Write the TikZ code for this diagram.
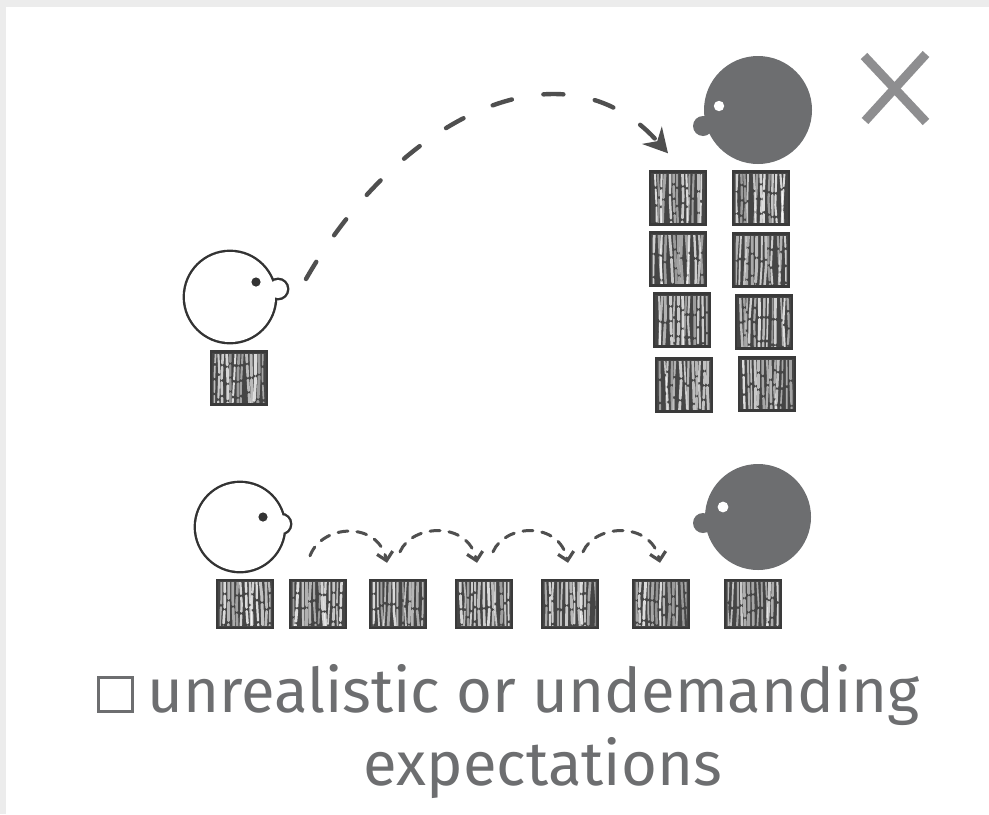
\documentclass[tikz,border=0pt]{standalone}
\usepackage{fontspec}
\setmainfont{Fira Sans}
\usetikzlibrary{arrows.meta}
\definecolor{ink}{HTML}{333333}
\definecolor{arrowgray}{HTML}{4F4F4F}
\definecolor{headgray}{HTML}{6D6E70}
\definecolor{crossgray}{HTML}{8E8E90}
\definecolor{txtgray}{HTML}{6D6E70}
\definecolor{brickfill}{HTML}{454545}
\definecolor{brickedge}{HTML}{3A3A3A}
\definecolor{frame}{HTML}{ECECEC}

% white streaks scratched into a block; #1 node, #2 half width, #3 half height (px)
\newcommand{\grain}[3]{%
  \begin{scope}[shift={(#1.center)}]
    \clip (-#2+2.5,-#3+2.5) rectangle (#2-2.5,#3-2.5);
    \foreach \k in {0,...,12}{
      \pgfmathsetmacro\xa{-#2+4+4*\k+0.9*rand}
      \pgfmathsetmacro\xb{\xa+1.8*rand}
      \pgfmathsetmacro\xc{\xb+1.8*rand}
      \pgfmathsetmacro\ym{8*rand}
      \pgfmathsetmacro\op{0.42+0.4*rnd}
      \pgfmathsetmacro\da{5+9*rnd}
      \pgfmathsetmacro\lw{0.8+0.7*rnd}
      \draw[white, opacity=\op, line width=\lw pt, line cap=round,
            dash pattern=on \da pt off 1.8pt]
        (\xa,-#3) -- (\xb,\ym) -- (\xc,#3);
    }
  \end{scope}}

\begin{document}
\begin{tikzpicture}[x=0.5pt,y=-0.5pt,
  brick/.style={rectangle, fill=brickfill, draw=brickedge, line width=1.2pt,
    minimum width=28pt, minimum height=26.5pt, inner sep=0pt},
  bricklow/.style={brick, minimum height=24pt},
  headspot/.style={circle, inner sep=0pt, minimum size=#1},
  leap/.style={draw=arrowgray, line width=2.2pt, line cap=round,
    dash pattern=on 10pt off 16pt, -{Stealth[length=12pt,width=13pt]}},
  hop/.style={draw=arrowgray, line width=1.5pt, line cap=round,
    dash pattern=on 5pt off 4.5pt, -{Straight Barb[length=4pt,width=8pt,line width=1.6pt]}},
  cross/.style={draw=crossgray, line width=4.5pt},
  label/.style={text=txtgray, font=\fontsize{30.8}{36}\selectfont, inner sep=0pt}]

\useasboundingbox (0,0) rectangle (989,814);
\fill[frame] (0,0) rectangle (989,814);
\fill[white] (6,7) rectangle (989,814);

\pgfmathsetseed{17}

% ---------- upper scene ----------
% small open head with one block
\node[headspot=45pt] (hA) at (230,297) {};
\draw[ink, line width=2.4pt] (hA.center) circle[radius=22.5pt]
  ([shift={(48,-8)}]hA.center) circle[radius=4.5pt];
\fill[white] (hA.center) circle[radius=22.5pt]
  ([shift={(48,-8)}]hA.center) circle[radius=4.5pt];
\fill[ink] ([shift={(26,-15)}]hA.center) circle[radius=2.3pt];

\node[brick] (a1) at (239,378) {};
\grain{a1}{28}{26.5}

% dark head on top of the tall stacks
\node[headspot=54pt] (hB) at (758,110) {};
\fill[headgray] (hB.center) circle[radius=27pt]
  ([shift={(-55,16)}]hB.center) circle[radius=5pt];
\fill[white] ([shift={(-39,-4)}]hB.center) circle[radius=2.6pt];

% the cross
\coordinate (xa) at (864,56);
\coordinate (xb) at (926,122);
\coordinate (xc) at (926,54);
\coordinate (xd) at (865,121);
\draw[cross] (xa) -- (xb);
\draw[cross] (xc) -- (xd);

% two stacks of four blocks
\node[brick] (s11) at (678,198) {};
\node[brick] (s12) at (678,259) {};
\node[brick] (s13) at (682,320) {};
\node[brick] (s14) at (684,385) {};
\node[brick] (s21) at (761,198) {};
\node[brick] (s22) at (761,260) {};
\node[brick] (s23) at (764,322) {};
\node[brick] (s24) at (767,384) {};
\foreach \b in {s11,s12,s13,s14,s21,s22,s23,s24}{\grain{\b}{28}{26.5}}

% the long jump
\coordinate (leapS) at (306,279);
\draw[leap] (leapS) .. controls (398,118) and (563,35) .. ([shift={(-10,-17)}]s11.north);

% ---------- lower scene ----------
\node[headspot=44pt] (hC) at (240,527) {};
\draw[ink, line width=2.4pt] (hC.center) circle[radius=22pt]
  ([shift={(41,-3)}]hC.center) circle[radius=4.5pt];
\fill[white] (hC.center) circle[radius=22pt]
  ([shift={(41,-3)}]hC.center) circle[radius=4.5pt];
\fill[ink] ([shift={(23,-10)}]hC.center) circle[radius=2.3pt];

\node[headspot=53pt] (hD) at (758,517) {};
\fill[headgray] (hD.center) circle[radius=26.5pt]
  ([shift={(-55,6)}]hD.center) circle[radius=5pt];
\fill[white] ([shift={(-35,-10)}]hD.center) circle[radius=2.7pt];

\node[bricklow] (b1) at (245,604) {};
\node[bricklow] (b2) at (318,604) {};
\node[bricklow] (b3) at (398,604) {};
\node[bricklow] (b4) at (484,604) {};
\node[bricklow] (b5) at (570,604) {};
\node[bricklow] (b6) at (661,604) {};
\node[bricklow] (b7) at (753,604) {};
\foreach \b in {b1,b2,b3,b4,b5,b6,b7}{\grain{\b}{28}{24}}

% small hops from block to block
\draw[hop] ([shift={(-8,-23)}]b2.north) .. controls +(12,-32) and +(-9,-42) .. ([shift={(-11,-16)}]b3.north);
\draw[hop] ([shift={(2,-27)}]b3.north) .. controls +(12,-28) and +(-9,-42) .. ([shift={(-7,-16)}]b4.north);
\draw[hop] ([shift={(9,-27)}]b4.north) .. controls +(12,-28) and +(-9,-42) .. ([shift={(-2,-16)}]b5.north);
\draw[hop] ([shift={(13,-27)}]b5.north) .. controls +(12,-28) and +(-9,-42) .. ([shift={(-1,-16)}]b6.north);

% ---------- caption ----------
\node[draw=txtgray, line width=1.5pt, minimum size=17pt, inner sep=0pt] (box) at (115,694) {};
\node[label, anchor=base west] (t1) at (147,712) {unrealistic or undemanding};
\node[label, anchor=base] (t2) at (543,785) {expectations};

\end{tikzpicture}
\end{document}
